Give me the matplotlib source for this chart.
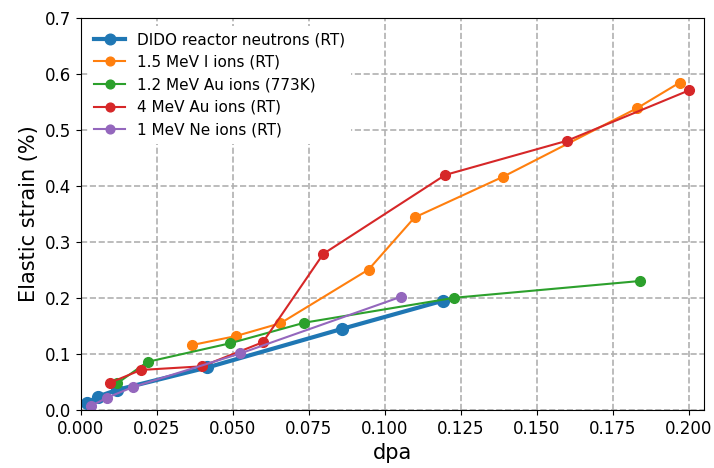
import matplotlib.pyplot as plt

dido_x = [0.002, 0.0057, 0.012, 0.0417, 0.086, 0.119]
dido_y = [0.012, 0.024, 0.036, 0.076, 0.145, 0.195]

i15_x = [0.0366, 0.051, 0.0657, 0.0947, 0.1098, 0.139, 0.1829, 0.197]
i15_y = [0.116, 0.132, 0.155, 0.251, 0.344, 0.417, 0.539, 0.585]

au12_x = [0.0121, 0.022, 0.049, 0.0736, 0.1229, 0.184]
au12_y = [0.048, 0.086, 0.119, 0.156, 0.2005, 0.2305]

au4_x = [0.0098, 0.0198, 0.0399, 0.0599, 0.0798, 0.1199, 0.1599, 0.2]
au4_y = [0.049, 0.0715, 0.078, 0.121, 0.279, 0.42, 0.481, 0.571]

ne_x = [0.0033, 0.0087, 0.0172, 0.0525, 0.1052]
ne_y = [0.007, 0.022, 0.041, 0.101, 0.202]

fig, ax = plt.subplots(figsize=(7.14, 4.68), dpi=100)

ax.plot(dido_x, dido_y, "o-", color="#1f77b4", lw=3, ms=8.5, label="DIDO reactor neutrons (RT)")
ax.plot(i15_x, i15_y, "o-", color="#ff7f0e", lw=1.5, ms=7, label="1.5 MeV I ions (RT)")
ax.plot(au12_x, au12_y, "o-", color="#2ca02c", lw=1.5, ms=7, label="1.2 MeV Au ions (773K)")
ax.plot(au4_x, au4_y, "o-", color="#d62728", lw=1.5, ms=7, label="4 MeV Au ions (RT)")
ax.plot(ne_x, ne_y, "o-", color="#9467bd", lw=1.5, ms=7, label="1 MeV Ne ions (RT)")

ax.set_xlim(0, 0.205)
ax.set_ylim(0, 0.7)
ax.set_xticks([0, 0.025, 0.05, 0.075, 0.1, 0.125, 0.15, 0.175, 0.2])
ax.set_xticklabels(["0.000", "0.025", "0.050", "0.075", "0.100", "0.125", "0.150", "0.175", "0.200"])
ax.grid(True, ls="--", color="#b0b0b0", lw=1.2)
ax.tick_params(labelsize=12)
ax.set_xlabel("dpa", fontsize=15)
ax.set_ylabel("Elastic strain (%)", fontsize=15)
leg = ax.legend(loc="upper left", fontsize=11, frameon=True, framealpha=1,
                facecolor="white", edgecolor="white", markerscale=0.9)
leg.get_frame().set_linewidth(0)

plt.subplots_adjust(left=0.113, right=0.986, bottom=0.124, top=0.961)
plt.savefig("out.png")
